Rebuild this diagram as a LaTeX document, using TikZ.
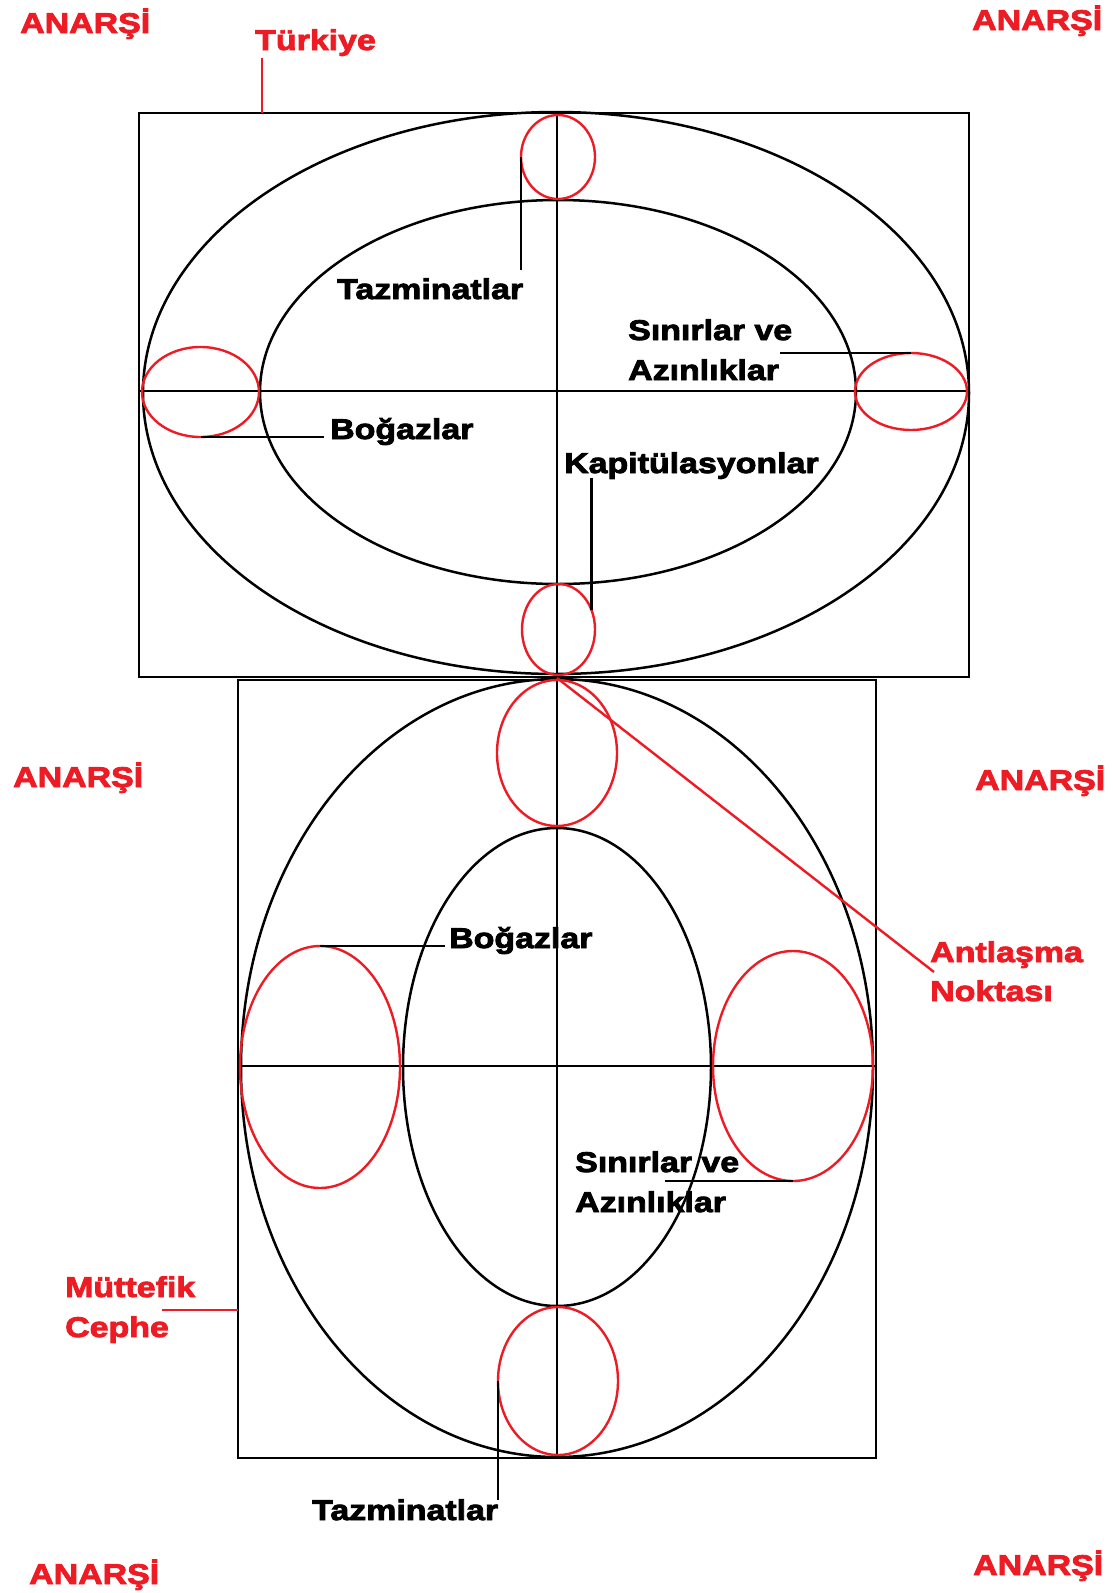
\documentclass[tikz,border=0pt]{standalone}
\usepackage{fontspec}
\usetikzlibrary{shapes.geometric}
\newfontfamily\labfont[FakeStretch=1.19,FakeBold=3]{Liberation Sans Bold}
\definecolor{pred}{RGB}{237,28,36}
\tikzset{
  blk/.style={draw=black,line width=2.5pt},
  redl/.style={draw=pred,line width=2.4pt},
  rov/.style={ellipse,draw=pred,line width=2.4pt,inner sep=0pt,outer sep=0pt},
  frame/.style={rectangle,draw=black,line width=2.6pt,inner sep=0pt,outer sep=0pt},
  lbl/.style={anchor=base west,inner sep=0pt,font=\labfont\fontsize{28.5}{30}\selectfont},
  blbl/.style={lbl,text=black},
  rlbl/.style={lbl,text=pred},
}
\begin{document}
\begin{tikzpicture}[x=1pt,y=-1pt]
\useasboundingbox (0,0) rectangle (1112,1593);
% frames
\node[frame,minimum width=830pt,minimum height=564pt] (trk) at (554,395) {};
\node[frame,minimum width=638pt,minimum height=778pt] (mut) at (557,1069) {};
% axes
\draw[blk] (557,113) -- (557,1458);
\draw[blk] (139,391) -- (969,391);
\draw[blk] (238,1066) -- (876,1066);
% black ellipses
\draw[blk] (556,393) ellipse [x radius=413, y radius=281];
\draw[blk] (558,392) ellipse [x radius=298, y radius=192];
\draw[blk] (557,1068) ellipse [x radius=316, y radius=389];
\draw[blk] (557,1067) ellipse [x radius=154, y radius=239];
% red ellipses, top
\node[rov,minimum width=74pt,minimum height=84pt] (rT1) at (558,157) {};
\node[rov,minimum width=73pt,minimum height=91pt] (rT2) at (558.5,629.5) {};
\node[rov,minimum width=117pt,minimum height=90pt] (rTL) at (200.5,392) {};
\node[rov,minimum width=112pt,minimum height=77pt] (rTR) at (911,391.5) {};
% red ellipses, bottom
\node[rov,minimum width=120pt,minimum height=146pt] (rB1) at (557,753) {};
\node[rov,minimum width=120pt,minimum height=148pt] (rB2) at (558,1381) {};
\node[rov,minimum width=160pt,minimum height=242pt] (rBL) at (320,1067) {};
\node[rov,minimum width=160pt,minimum height=230pt] (rBR) at (793,1066) {};
% labels
\node[rlbl] (an1) at (20,33) {ANARŞİ};
\node[rlbl] (an2) at (972,30) {ANARŞİ};
\node[rlbl] (an3) at (13,787) {ANARŞİ};
\node[rlbl] (an4) at (975,790) {ANARŞİ};
\node[rlbl] (an5) at (29,1584) {ANARŞİ};
\node[rlbl] (an6) at (973,1575) {ANARŞİ};
\node[rlbl] (tur) at (255,50) {Türkiye};
\node[blbl] (taz1) at (337,299) {Tazminatlar};
\node[blbl] (sin1) at (628,340) {Sınırlar ve};
\node[blbl] (azi1) at (628,380) {Azınlıklar};
\node[blbl] (bog1) at (330,439) {Boğazlar};
\node[blbl] (kap) at (564,473) {Kapitülasyonlar};
\node[blbl] (bog2) at (449,948) {Boğazlar};
\node[blbl] (sin2) at (575,1172) {Sınırlar ve};
\node[blbl] (azi2) at (575,1212) {Azınlıklar};
\node[blbl] (taz2) at (312,1520) {Tazminatlar};
\node[rlbl] (mut1) at (65,1297) {Müttefik};
\node[rlbl] (mut2) at (65,1337) {Cephe};
\node[rlbl] (ant1) at (930,962) {Antlaşma};
\node[rlbl] (ant2) at (930,1001) {Noktası};
% connector ends
\coordinate (turEnd) at (262,58);
\coordinate (taz1End) at (522,270);
\coordinate (sin1End) at (780,353);
\coordinate (bog1End) at (324,437);
\coordinate (kapEnd) at (591,478);
\coordinate (bog2End) at (445,946);
\coordinate (sin2End) at (665,1181);
\coordinate (taz2End) at (498,1500);
\coordinate (mutEnd) at (162,1310);
\coordinate (touch) at (557,678);
\coordinate (antEnd) at (934,972);
% connectors
\draw[redl] (turEnd) -- (turEnd |- trk.north);
\draw[blk] (rT1.west) -- (rT1.west |- taz1End);
\draw[blk] (rTR.north) -- (rTR.north -| sin1End);
\draw[blk] (rTL.south) -- (rTL.south -| bog1End);
\draw[blk] (rT2.30) -- (rT2.30 |- kapEnd);
\draw[blk] (rBL.north) -- (rBL.north -| bog2End);
\draw[blk] (rBR.south) -- (rBR.south -| sin2End);
\draw[blk] (rB2.west) -- (rB2.west |- taz2End);
\draw[redl] (mutEnd) -- (mutEnd -| mut.west);
\draw[redl] (touch) -- (antEnd);
\end{tikzpicture}
\end{document}
